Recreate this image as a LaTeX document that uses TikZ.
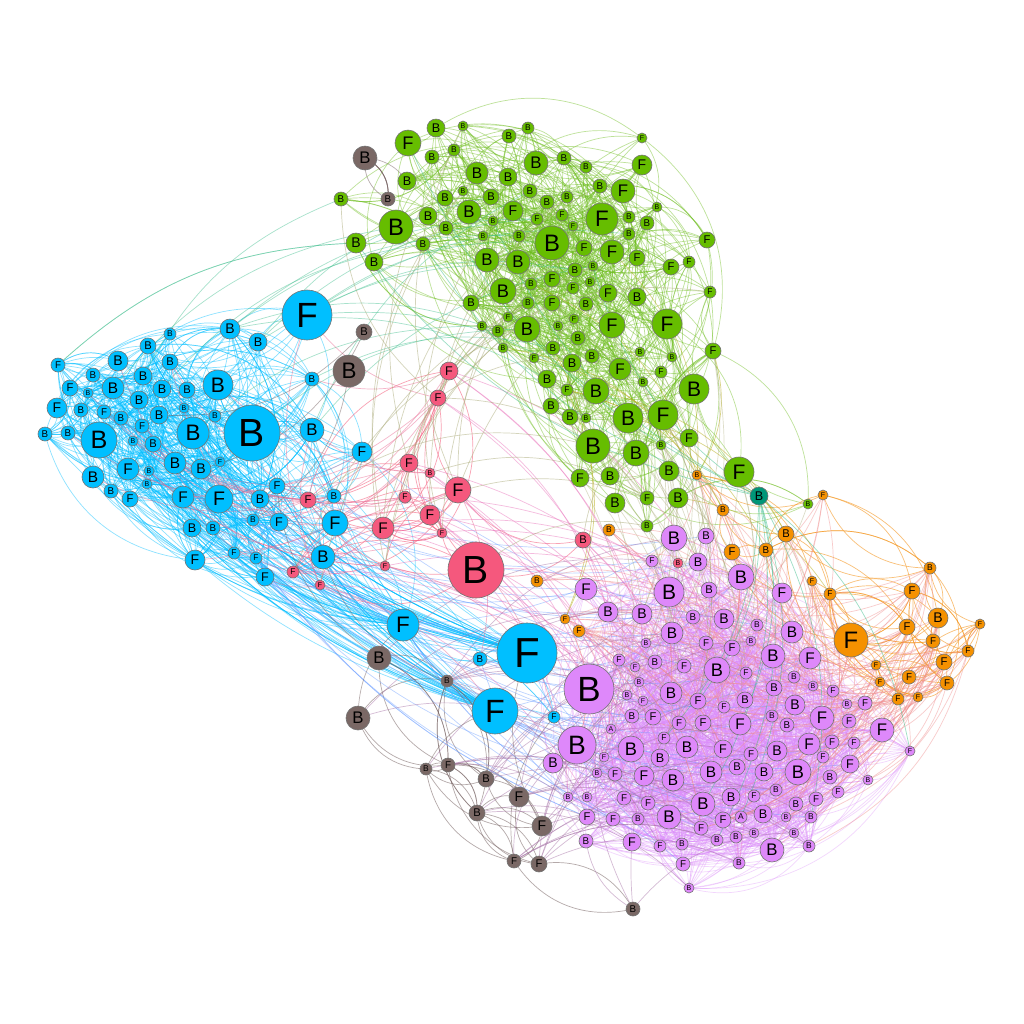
\documentclass[tikz,border=0pt]{standalone}
\usepackage{fontspec}
\setmainfont{Liberation Sans}
\usetikzlibrary{backgrounds}
\pgfdeclarelayer{bg}
\pgfsetlayers{bg,background,main}
\definecolor{cy}{RGB}{0,191,255}
\definecolor{gr}{RGB}{102,189,0}
\definecolor{vi}{RGB}{222,136,250}
\definecolor{orr}{RGB}{245,145,0}
\definecolor{pk}{RGB}{245,88,125}
\definecolor{br}{RGB}{122,104,101}
\definecolor{te}{RGB}{0,150,120}
\definecolor{ecy}{RGB}{0,191,255}
\definecolor{egr}{RGB}{110,190,30}
\definecolor{evi}{RGB}{220,140,250}
\definecolor{eor}{RGB}{245,150,30}
\definecolor{epk}{RGB}{245,100,130}
\definecolor{ebr}{RGB}{120,100,100}
\definecolor{ecv}{RGB}{110,160,255}
\definecolor{ecg}{RGB}{60,190,140}
\definecolor{egv}{RGB}{170,170,120}
\definecolor{ego}{RGB}{180,170,20}
\definecolor{eov}{RGB}{240,140,140}
\definecolor{epv}{RGB}{235,120,190}
\definecolor{epc}{RGB}{235,110,150}
\definecolor{ebv}{RGB}{170,120,170}
\tikzset{nd/.style={circle,draw=black!55,line width=0.3pt,inner sep=0pt},
  ed/.style={line width=0.35pt,draw opacity=#1},
  ed/.default=0.45}
\newcommand\drawcluster[3]{%
  \foreach \x/\y/\r/\lab [count=\i] in {#3} {
    \pgfmathsetmacro\fs{0.7*\r}
    \node[nd,fill=#2,minimum size=\r pt,font=\fontsize{\fs pt}{\fs pt}\selectfont] (#1\i) at (\x,\y) {\lab};
    \xdef\lastcount{\i}
  }}
% trials, prefixA, loA, hiA, prefixB, loB, hiB, max distance (pt), style
\newcommand\randedges[9]{%
  \foreach \e in {1,...,#1} {
    \pgfmathrandominteger{\ea}{#3}{#4}
    \pgfmathrandominteger{\eb}{#6}{#7}
    \pgfpointdiff{\pgfpointanchor{#2\ea}{center}}{\pgfpointanchor{#5\eb}{center}}
    \pgfgetlastxy{\dx}{\dy}
    \pgfmathparse{veclen(\dx,\dy)<#8 ? 1 : 0}
    \ifnum\pgfmathresult=1
      \draw[#9] (#2\ea.center) to (#5\eb.center);
    \fi
  }}
\begin{document}
\begin{tikzpicture}[x=0.5pt,y=-0.5pt]
\begin{pgfonlayer}{bg}
\fill[white] (0,0) rectangle (1024,1024);
\end{pgfonlayer}
\useasboundingbox (0,0) rectangle (1024,1024);
% cyan
\drawcluster{c}{cy}{307/315/25/F,230/329/10/B,258/342/9/B,170/334/6/B,148/346/8/B,58/365/7/F,118/361/10/B,170/362/8/B,93/375/7/B,70/388/8/F,88/393/5/B,113/388/11/B,143/376/9/B,162/389/9/B,187/390/8/B,218/385/15/B,57/408/10/F,81/410/7/B,104/412/7/F,139/400/9/B,184/408/5/B,121/418/7/B,159/415/9/B,215/416/6/B,142/426/7/F,45/434/7/B,68/433/7/B,99/440/18/B,133/441/5/B,153/444/8/B,193/433/16/B,252/433/28/B,312/430/12/B,312/379/7/B,362/452/10/F,220/462/5/F,175/463/11/B,201/469/10/B,128/469/11/F,149/471/5/B,147/484/5/B,93/477/11/B,111/491/7/B,130/499/8/F,183/497/11/F,219/499/14/F,277/486/8/F,260/499/9/B,334/496/7/B,335/523/13/F,192/528/9/B,213/528/7/B,253/520/6/B,279/522/9/F,195/560/10/F,234/553/6/F,256/558/6/F,265/577/9/F,323/557/12/B,403/625/16/F,480/659/7/B,527/653/30/F,495/711/23/F,554/717/6/F}
\let\Nc\lastcount
% pink
\drawcluster{p}{pk}{449/371/9/F,438/398/8/F,409/463/9/F,430/473/5/B,458/490/13/F,405/497/6/F,430/515/10/F,442/533/5/F,383/528/11/F,308/500/8/F,385/566/5/F,293/572/6/F,320/585/5/F,476/570/28/B,583/540/8/B,678/563/5/B}
\let\Np\lastcount
% brown
\drawcluster{k}{br}{365/158/12/B,388/199/7/B,364/332/8/B,349/371/16/B,379/658/12/B,358/718/12/B,447/681/6/B,426/769/6/B,448/765/7/F,486/779/8/B,519/797/10/F,477/813/8/B,542/826/10/F,514/861/7/F,539/864/8/F,633/909/7/B}
\let\Nk\lastcount
% teal
\drawcluster{t}{te}{759/496/9/B}
% orange
\drawcluster{o}{orr}{697/475/5/B,723/510/6/B,609/530/6/B,537/581/6/B,565/619/5/F,579/631/6/F,732/552/8/F,766/550/7/B,786/534/8/B,823/495/5/F,812/581/5/F,830/594/6/F,930/568/6/B,912/591/8/F,938/618/10/B,980/624/5/F,907/627/8/F,851/640/17/F,933/641/7/F,968/651/6/F,944/662/8/F,876/665/5/F,880/682/5/F,909/677/7/F,947/683/7/F,898/699/6/F,918/697/5/F}
\let\No\lastcount
% green
\drawcluster{g}{gr}{642/138/5/F,436/128/9/B,463/126/5/B,509/136/7/B,528/128/6/B,408/143/13/F,454/150/6/B,432/157/7/B,564/158/7/B,536/163/12/B,642/165/10/F,586/167/6/B,477/173/11/B,508/177/9/B,407/181/9/B,600/186/7/B,623/191/12/F,463/191/5/B,530/191/7/B,341/199/7/B,445/198/8/B,491/197/8/B,567/197/6/B,547/202/7/B,657/207/5/B,513/211/10/F,469/212/12/B,428/216/9/B,629/217/6/B,602/219/16/F,537/219/6/F,562/215/6/F,493/221/5/B,647/223/7/B,396/227/17/B,573/226/5/F,446/228/7/B,629/234/6/B,483/236/5/B,519/236/6/B,707/240/8/F,356/243/10/B,423/244/7/B,552/243/17/B,584/248/8/F,612/252/12/F,637/258/8/F,487/260/12/B,518/262/12/B,374/262/9/B,593/266/5/B,689/262/6/F,671/267/8/F,575/270/7/B,552/279/8/F,590/282/5/B,531/284/6/B,573/288/6/F,503/291/13/B,608/293/9/F,710/292/6/F,637/297/9/B,471/303/8/B,528/303/6/B,552/303/8/F,586/304/7/B,508/317/5/F,574/319/5/F,612/325/13/F,667/324/15/F,482/326/5/B,558/326/5/B,527/329/13/B,498/331/6/B,578/338/7/B,503/348/5/B,553/348/7/B,713/351/8/F,640/352/5/B,534/358/5/F,672/357/5/B,592/356/7/B,572/363/9/B,620/369/11/F,661/372/6/F,547/379/9/B,643/382/5/B,567/390/6/F,596/391/13/B,694/389/15/B,551/406/8/B,570/417/8/B,586/418/5/B,663/415/15/F,628/418/15/B,689/438/9/F,593/446/17/B,661/445/5/B,636/453/13/B,610/476/9/B,580/478/9/F,669/471/10/B,739/472/15/F,615/503/10/B,647/498/7/F,678/498/10/B,647/526/6/B,808/504/5/B}
\let\Ng\lastcount
% violet
\drawcluster{v}{vi}{674/538/13/B,706/536/8/B,652/561/6/F,698/562/9/B,741/577/13/B,586/589/11/F,669/592/15/B,709/590/8/B,782/593/10/F,608/612/10/B,642/614/10/B,693/617/7/B,724/619/10/B,757/625/6/B,792/632/11/B,672/633/11/B,646/643/5/B,706/643/7/F,732/648/8/F,751/641/5/B,773/656/12/B,810/658/11/F,619/660/6/F,635/667/5/F,655/662/7/B,684/666/7/F,717/670/13/B,746/673/6/F,794/677/6/B,813/686/5/B,833/691/6/F,639/682/5/B,774/688/8/B,589/689/25/B,671/693/11/B,627/695/5/B,643/701/5/F,698/701/8/F,724/707/6/F,745/700/8/B,795/705/10/B,847/704/5/B,865/703/7/F,611/729/5/A,632/716/7/B,653/717/8/F,679/723/7/F,703/723/8/F,740/724/11/F,772/716/6/B,787/725/7/B,822/718/12/F,849/721/7/F,882/730/12/F,910/751/5/F,664/738/6/F,577/745/19/B,631/749/13/B,687/747/11/B,723/749/9/F,751/754/7/F,777/751/10/B,809/744/11/F,832/742/7/F,854/743/6/F,604/757/5/F,660/758/9/B,823/757/6/F,850/764/9/F,553/763/10/B,597/773/5/B,615/774/7/F,644/776/10/F,673/780/11/B,711/772/11/B,737/767/8/B,764/772/9/B,798/772/13/B,830/777/7/B,868/780/5/B,838/792/6/F,568/797/5/B,587/797/5/B,624/798/7/F,648/803/7/F,703/804/12/B,731/797/9/B,754/796/6/F,776/790/6/B,796/804/7/B,816/799/7/F,587/817/8/F,613/819/7/F,638/819/6/B,669/817/12/B,723/820/8/F,741/817/6/A,763/814/9/B,786/817/5/B,811/817/6/B,586/841/7/B,632/842/9/F,660/846/6/F,682/844/6/B,701/828/7/F,717/840/6/B,736/837/6/B,754/833/5/B,794/833/5/B,809/846/6/B,772/850/12/B,683/864/7/F,739/863/6/B,689/888/5/B}
\let\Nv\lastcount
\begin{pgfonlayer}{background}
\pgfmathsetseed{4242}
\randedges{1700}{v}{1}{\Nv}{v}{1}{\Nv}{140}{ed=0.35,evi,bend left=35}
\randedges{1000}{g}{1}{\Ng}{g}{1}{\Ng}{115}{ed=0.45,egr,bend left=35}
\randedges{800}{c}{1}{\Nc}{c}{1}{\Nc}{105}{ed=0.45,ecy,bend left=35}
\randedges{40}{c}{62}{62}{c}{1}{\Nc}{9999}{ed=0.45,ecy,bend left=15}
\randedges{40}{c}{63}{63}{c}{1}{\Nc}{9999}{ed=0.45,ecy,bend left=15}
\randedges{25}{c}{60}{60}{c}{1}{\Nc}{9999}{ed=0.45,ecy,bend left=20}
\randedges{25}{c}{32}{32}{c}{1}{\Nc}{9999}{ed=0.45,ecy,bend left=30}
\randedges{160}{o}{1}{\No}{o}{1}{\No}{90}{ed=0.6,eor,bend left=35}
\randedges{50}{p}{1}{\Np}{p}{1}{\Np}{100}{ed=0.6,epk,bend left=35}
\randedges{120}{k}{1}{\Nk}{k}{1}{\Nk}{75}{ed=0.55,ebr,bend left=35}
\randedges{150}{v}{1}{\Nv}{c}{35}{\Nc}{230}{ed=0.45,ecv,bend left=15}
\randedges{140}{c}{1}{34}{g}{1}{\Ng}{170}{ed=0.45,ecg,bend left=20}
\randedges{400}{g}{1}{\Ng}{v}{1}{\Nv}{150}{ed=0.4,egv,bend left=20}
\randedges{80}{g}{1}{\Ng}{o}{1}{\No}{140}{ed=0.5,ego,bend left=25}
\randedges{260}{o}{1}{\No}{v}{1}{\Nv}{140}{ed=0.45,eov,bend left=25}
\randedges{90}{p}{1}{\Np}{v}{1}{\Nv}{190}{ed=0.5,epv,bend left=20}
\randedges{70}{p}{1}{\Np}{c}{1}{\Nc}{140}{ed=0.5,epc,bend left=20}
\randedges{30}{p}{1}{\Np}{g}{1}{\Ng}{220}{ed=0.5,egv,bend left=25}
\randedges{120}{k}{1}{\Nk}{v}{1}{\Nv}{150}{ed=0.5,ebv,bend left=25}
\randedges{60}{k}{1}{\Nk}{c}{1}{\Nc}{120}{ed=0.5,ebr,bend left=25}
\randedges{40}{k}{1}{\Nk}{g}{1}{\Ng}{110}{ed=0.5,ebr,bend left=25}
\randedges{8}{t}{1}{1}{v}{1}{\Nv}{9999}{ed=0.5,ecg,bend left=20}
\randedges{5}{t}{1}{1}{g}{1}{\Ng}{9999}{ed=0.5,ecg,bend left=20}
\end{pgfonlayer}
\end{tikzpicture}
\end{document}
